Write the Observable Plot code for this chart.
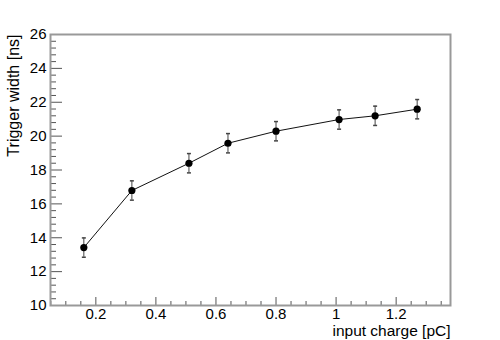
<!DOCTYPE html>
<html><head><meta charset="utf-8">
<script src="https://cdn.jsdelivr.net/npm/d3@7"></script>
<script src="https://cdn.jsdelivr.net/npm/@observablehq/plot@0.6"></script>
<style>
body{margin:0;background:#fff;}
svg{display:block;font-family:"Liberation Sans",Arial,Helvetica,sans-serif;}
</style>
</head><body><div id="chart"></div>
<script>
// data
const charge = [0.16, 0.32, 0.51, 0.64, 0.80, 1.01, 1.13, 1.27];
const trigWidth = [13.42, 16.79, 18.40, 19.58, 20.29, 20.98, 21.20, 21.59];
const trigErr = [0.57, 0.57, 0.57, 0.57, 0.57, 0.57, 0.57, 0.57];

// axes
const xDomain = [0.049, 1.381];
const yDomain = [10, 26];
const xMajor = [0.2, 0.4, 0.6, 0.8, 1.0, 1.2];
const xMinor = [0.05, 0.1, 0.15, 0.25, 0.3, 0.35, 0.45, 0.5, 0.55, 0.65, 0.7, 0.75,
                0.85, 0.9, 0.95, 1.05, 1.1, 1.15, 1.25, 1.3, 1.35];
const yMajor = [10, 12, 14, 16, 18, 20, 22, 24, 26];
const yMinor = [10.4, 10.8, 11.2, 11.6, 12.4, 12.8, 13.2, 13.6, 14.4, 14.8, 15.2, 15.6,
                16.4, 16.8, 17.2, 17.6, 18.4, 18.8, 19.2, 19.6, 20.4, 20.8, 21.2, 21.6,
                22.4, 22.8, 23.2, 23.6, 24.4, 24.8, 25.2, 25.6];
const xTitle = "input charge [pC]";
const yTitle = "Trigger width [ns]";

const data = charge.map((x, i) => ({x, y: trigWidth[i], e: trigErr[i]}));

const W = 500, H = 340, mL = 50, mR = 50, mT = 34, mB = 35;
const fw = W - mL - mR, fh = H - mT - mB;

const cap = {draw(ctx) { ctx.moveTo(-2, 0); ctx.lineTo(2, 0); }};

const chart = Plot.plot({
  width: W, height: H,
  marginLeft: mL, marginRight: mR, marginTop: mT, marginBottom: mB,
  x: {domain: xDomain},
  y: {domain: yDomain},
  style: {fontFamily: '"Liberation Sans",Arial,sans-serif', background: "#fff"},
  marks: [
    Plot.ruleX(xMinor, {insetTop: fh - 4, stroke: "#555", strokeWidth: 1}),
    Plot.ruleX(xMajor, {insetTop: fh - 8, stroke: "#555", strokeWidth: 1}),
    Plot.ruleY(yMinor, {insetRight: fw - 6, stroke: "#555", strokeWidth: 1}),
    Plot.ruleY(yMajor, {insetRight: fw - 12, stroke: "#555", strokeWidth: 1}),
    Plot.frame({stroke: "#999", strokeWidth: 2}),
    Plot.axisX(xMajor, {tickSize: 0, tickPadding: 3, fontSize: 15, fill: "#000",
      tickFormat: d => String(+d.toFixed(2)), label: null}),
    Plot.axisY(yMajor, {tickSize: 0, tickPadding: 4, fontSize: 15, fill: "#000",
      tickFormat: d => String(d), label: null}),
    Plot.ruleX(data, {x: "x", y1: d => d.y - d.e, y2: d => d.y + d.e, stroke: "#444", strokeWidth: 1}),
    Plot.dot(data, {x: "x", y: d => d.y - d.e, symbol: cap, r: 2, stroke: "#444", fill: "none"}),
    Plot.dot(data, {x: "x", y: d => d.y + d.e, symbol: cap, r: 2, stroke: "#444", fill: "none"}),
    Plot.line(data, {x: "x", y: "y", stroke: "#111", strokeWidth: 1}),
    Plot.dot(data, {x: "x", y: "y", r: 3.6, fill: "#000", stroke: "none"}),
    Plot.text([xTitle], {frameAnchor: "bottom-right", text: d => d, textAnchor: "end",
      lineAnchor: "bottom", dy: 30, fontSize: 15.5, fill: "#000"}),
    Plot.text([yTitle], {frameAnchor: "top-left", text: d => d, textAnchor: "end",
      lineAnchor: "bottom", rotate: -90, dx: -31.5, fontSize: 16, fill: "#000"})
  ]
});
document.getElementById("chart").appendChild(chart);
</script>
</body></html>
